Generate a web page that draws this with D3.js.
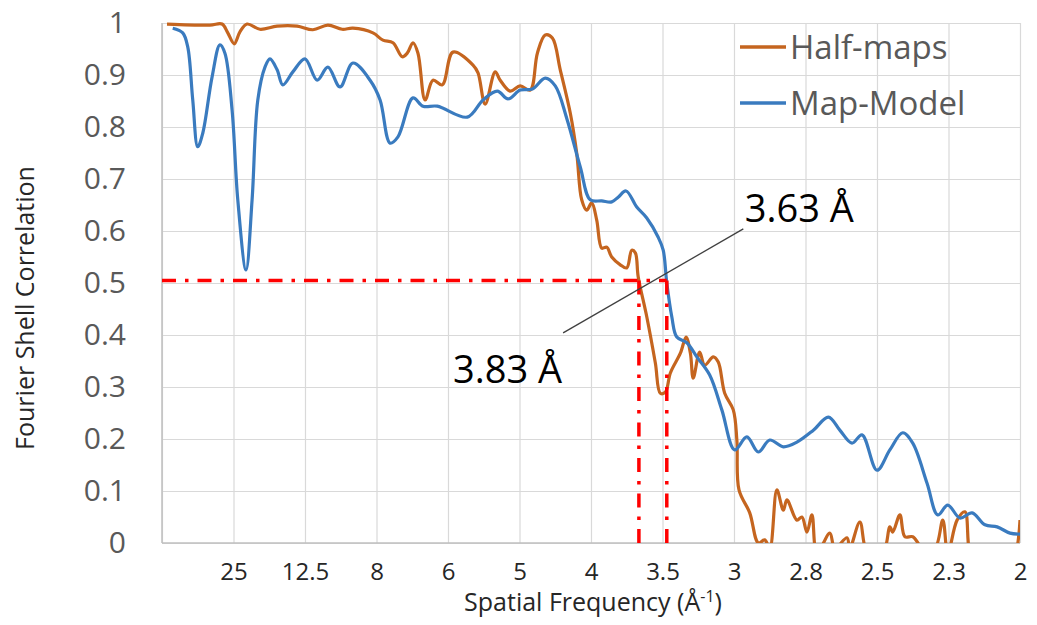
<!DOCTYPE html>
<html lang="en">
<head>
	<meta charset="utf-8">
	<title>Fourier Shell Correlation</title>
	<script src="https://d3js.org/d3.v7.min.js"></script>
	<style>
		html, body { margin: 0; background: #fff; overflow: hidden; }
		svg { display: block; }
		.grid line { stroke: #d9d9d9; stroke-width: 1.2; }
		.grid path { display: none; }
		.axis-x path, .axis-y path, .axis-x line, .axis-y line { display: none; }
	</style>
</head>
<body>
	<div id="chart"></div>
	<script>
		// Data (x in tick units: 0 = left edge, 1 = "25", ... 12 = "2")
		const xTickLabels = ["25", "12.5", "8", "6", "5", "4", "3.5", "3", "2.8", "2.5", "2.3", "2"];
		const yTicks = [0, 0.1, 0.2, 0.3, 0.4, 0.5, 0.6, 0.7, 0.8, 0.9, 1];

		const halfMaps = [
			[0.07, 0.998], [0.67, 0.996], [0.84, 0.998], [0.92, 0.981], [1.01, 0.960], [1.09, 0.983],
			[1.19, 0.998], [1.37, 0.988], [1.61, 0.994], [1.89, 0.994], [2.11, 0.987], [2.32, 0.996],
			[2.52, 0.988], [2.67, 0.990], [2.95, 0.981], [3.09, 0.967], [3.23, 0.962], [3.36, 0.935],
			[3.43, 0.942], [3.51, 0.962], [3.58, 0.942], [3.68, 0.852], [3.79, 0.890], [3.92, 0.881],
			[4.07, 0.944], [4.35, 0.919], [4.42, 0.904], [4.52, 0.844], [4.66, 0.906], [4.73, 0.890],
			[4.87, 0.869], [5.01, 0.879], [5.15, 0.871], [5.25, 0.942], [5.36, 0.977], [5.46, 0.971],
			[5.57, 0.910], [5.71, 0.827], [5.80, 0.750], [5.87, 0.660], [5.94, 0.640], [6.01, 0.654],
			[6.08, 0.621], [6.15, 0.567], [6.22, 0.569], [6.29, 0.550], [6.41, 0.535], [6.50, 0.529],
			[6.57, 0.563], [6.62, 0.558], [6.66, 0.512], [6.78, 0.435], [6.90, 0.346], [6.97, 0.288],
			[7.04, 0.290], [7.11, 0.327], [7.25, 0.365], [7.33, 0.396], [7.39, 0.365], [7.43, 0.317],
			[7.52, 0.367], [7.59, 0.342], [7.71, 0.358], [7.78, 0.348], [7.87, 0.288], [7.99, 0.256],
			[8.04, 0.198], [8.07, 0.102], [8.22, 0.058], [8.34, 0.000], [8.43, 0.006], [8.50, -0.01],
			[8.60, 0.102], [8.69, 0.063], [8.74, 0.083], [8.88, 0.044], [8.95, 0.050], [9.02, 0.021],
			[9.09, 0.054], [9.16, -0.02], [9.34, 0.019], [9.41, -0.01], [9.58, 0.010], [9.62, -0.01],
			[9.76, 0.040], [9.87, -0.02], [10.08, -0.02], [10.18, 0.031], [10.22, 0.021], [10.32, 0.054],
			[10.39, 0.012], [10.50, 0.012], [10.64, -0.01], [10.81, -0.01], [10.92, 0.044], [10.99, -0.02],
			[11.12, 0.044], [11.23, 0.060], [11.33, -0.03], [11.54, -0.03], [11.68, -0.01], [11.90, -0.03],
			[12.00, 0.044]
		];

		const mapModel = [
			[0.15, 0.990], [0.29, 0.981], [0.36, 0.954], [0.43, 0.852], [0.50, 0.762], [0.57, 0.788],
			[0.70, 0.896], [0.81, 0.958], [0.88, 0.942], [0.98, 0.833], [1.06, 0.660], [1.175, 0.525],
			[1.26, 0.660], [1.34, 0.852], [1.44, 0.915], [1.51, 0.931], [1.61, 0.910], [1.69, 0.881],
			[1.83, 0.906], [2.00, 0.931], [2.17, 0.890], [2.32, 0.915], [2.49, 0.877], [2.67, 0.923],
			[2.91, 0.890], [3.05, 0.852], [3.19, 0.769], [3.30, 0.781], [3.51, 0.856], [3.65, 0.840],
			[3.85, 0.840], [4.27, 0.819], [4.49, 0.852], [4.69, 0.869], [4.84, 0.854], [5.01, 0.871],
			[5.18, 0.873], [5.36, 0.894], [5.50, 0.879], [5.66, 0.817], [5.85, 0.723], [5.99, 0.660],
			[6.15, 0.658], [6.29, 0.656], [6.38, 0.665], [6.49, 0.677], [6.64, 0.646], [6.78, 0.625],
			[6.94, 0.588], [7.01, 0.563], [7.06, 0.500], [7.13, 0.435], [7.20, 0.396], [7.34, 0.385],
			[7.48, 0.358], [7.66, 0.323], [7.83, 0.256], [8.01, 0.179], [8.18, 0.204], [8.34, 0.175],
			[8.50, 0.198], [8.69, 0.185], [8.88, 0.194], [9.11, 0.217], [9.32, 0.242], [9.48, 0.217],
			[9.65, 0.192], [9.79, 0.208], [10.00, 0.140], [10.18, 0.179], [10.36, 0.212], [10.50, 0.192],
			[10.70, 0.115], [10.85, 0.054], [10.99, 0.073], [11.16, 0.048], [11.33, 0.058], [11.51, 0.035],
			[11.68, 0.031], [11.86, 0.019], [12.00, 0.017]
		];

		// 0.5 criterion and where each curve crosses it
		const threshold = 0.505;
		const crossings = [6.67, 7.06];
		const labels = [
			{ text: "3.63 Å", x: 8.15, y: 0.617, lineX: 8.13, lineY: 0.604 },
			{ text: "3.83 Å", x: 4.07, y: 0.308, lineX: 5.61, lineY: 0.404 }
		];

		const series = [
			{ name: "Half-maps", values: halfMaps, color: "#c5651f" },
			{ name: "Map-Model", values: mapModel, color: "#3a7bbf" }
		];

		// Chart dimensions
		const width = 1037;
		const height = 625;
		const margin = { top: 23, right: 17, bottom: 82, left: 162 };
		const innerWidth = width - margin.left - margin.right;
		const innerHeight = height - margin.top - margin.bottom;
		const font = "Open Sans, sans-serif";

		const svg = d3.select("#chart")
			.append("svg")
			.attr("width", width)
			.attr("height", height)
			.attr("font-family", font);

		const bounds = svg.append("g")
			.attr("transform", `translate(${margin.left},${margin.top})`);

		// Scales
		const x = d3.scaleLinear()
			.domain([0, xTickLabels.length])
			.range([0, innerWidth]);

		const y = d3.scaleLinear()
			.domain([0, 1])
			.range([innerHeight, 0]);

		// Gridlines
		bounds.append("g")
			.attr("class", "grid")
			.call(d3.axisLeft(y).tickValues(yTicks).tickSize(-innerWidth).tickFormat(""))
			.selectAll("text").remove();

		bounds.append("g")
			.attr("class", "grid")
			.call(d3.axisTop(x).tickValues(d3.range(0, xTickLabels.length + 1)).tickSize(-innerHeight).tickFormat(""))
			.selectAll("text").remove();

		// axis lines
		bounds.append("line")
			.attr("x1", 0).attr("x2", 0)
			.attr("y1", 0).attr("y2", innerHeight)
			.attr("stroke", "#bfbfbf").attr("stroke-width", 1.5);
		bounds.append("line")
			.attr("x1", 0).attr("x2", innerWidth)
			.attr("y1", innerHeight).attr("y2", innerHeight)
			.attr("stroke", "#bfbfbf").attr("stroke-width", 1.5);

		// Axes
		bounds.append("g")
			.attr("class", "axis-y")
			.call(d3.axisLeft(y).tickValues(yTicks).tickSize(0).tickPadding(36).tickFormat(d => d3.format("")(+d.toFixed(1))))
			.attr("font-family", font)
			.attr("font-size", 30)
			.selectAll("text")
			.attr("fill", "#595959");

		bounds.append("g")
			.attr("class", "axis-x")
			.attr("transform", `translate(0,${innerHeight})`)
			.call(d3.axisBottom(x).tickValues(d3.range(1, xTickLabels.length + 1)).tickSize(0).tickPadding(20)
				.tickFormat(d => xTickLabels[d - 1]))
			.attr("font-family", font)
			.attr("font-size", 24)
			.selectAll("text")
			.attr("fill", "#262626");

		// Axis titles
		const xTitle = bounds.append("text")
			.attr("x", innerWidth / 2 + 2)
			.attr("y", innerHeight + 68)
			.attr("text-anchor", "middle")
			.attr("font-size", 25)
			.attr("fill", "#262626")
			.text("Spatial Frequency (Å");
		xTitle.append("tspan").attr("dy", -9).attr("font-size", 16).text("-1");
		xTitle.append("tspan").attr("dy", 9).text(")");

		svg.append("text")
			.attr("transform", `translate(34,${margin.top + innerHeight / 2 + 25}) rotate(-90)`)
			.attr("text-anchor", "middle")
			.attr("font-size", 25)
			.attr("fill", "#262626")
			.text("Fourier Shell Correlation");

		// Clip the curves to the plot area
		svg.append("defs").append("clipPath")
			.attr("id", "plot-clip")
			.append("rect")
			.attr("x", 0).attr("y", -5)
			.attr("width", innerWidth).attr("height", innerHeight + 5);

		const line = d3.line()
			.x(d => x(d[0]))
			.y(d => y(d[1]))
			.curve(d3.curveCatmullRom.alpha(0.5));

		bounds.append("g")
			.attr("clip-path", "url(#plot-clip)")
			.selectAll("path")
			.data(series)
			.join("path")
			.attr("d", d => line(d.values))
			.attr("fill", "none")
			.attr("stroke", d => d.color)
			.attr("stroke-width", 3.2)
			.attr("stroke-linejoin", "round");

		// 0.5 threshold guide lines
		const dash = "14,9,3.5,9";
		bounds.append("line")
			.attr("x1", x(0)).attr("x2", x(d3.max(crossings)))
			.attr("y1", y(threshold)).attr("y2", y(threshold))
			.attr("stroke", "#ff0000").attr("stroke-width", 3.5)
			.attr("stroke-dasharray", dash);

		bounds.selectAll(".drop")
			.data(crossings)
			.join("line")
			.attr("class", "drop")
			.attr("x1", d => x(d)).attr("x2", d => x(d))
			.attr("y1", y(threshold)).attr("y2", y(0))
			.attr("stroke", "#ff0000").attr("stroke-width", 3.5)
			.attr("stroke-dasharray", dash);

		// Resolution callouts
		bounds.append("line")
			.attr("x1", x(labels[1].lineX)).attr("y1", y(labels[1].lineY))
			.attr("x2", x(labels[0].lineX)).attr("y2", y(labels[0].lineY))
			.attr("stroke", "#404040").attr("stroke-width", 1.3);

		bounds.selectAll(".res-label")
			.data(labels)
			.join("text")
			.attr("class", "res-label")
			.attr("x", d => x(d.x))
			.attr("y", d => y(d.y))
			.attr("font-size", 38)
			.attr("fill", "#000")
			.text(d => d.text);

		// Legend
		const legend = bounds.selectAll(".legend")
			.data(series)
			.join("g")
			.attr("class", "legend")
			.attr("transform", (d, i) => `translate(${740 - margin.left},${47 - margin.top + i * 56})`);

		legend.append("line")
			.attr("x1", 0).attr("x2", 46)
			.attr("stroke", d => d.color)
			.attr("stroke-width", 3.5);

		legend.append("text")
			.attr("x", 50)
			.attr("y", 12)
			.attr("font-size", 33)
			.attr("fill", "#595959")
			.text(d => d.name);
	</script>
</body>
</html>
